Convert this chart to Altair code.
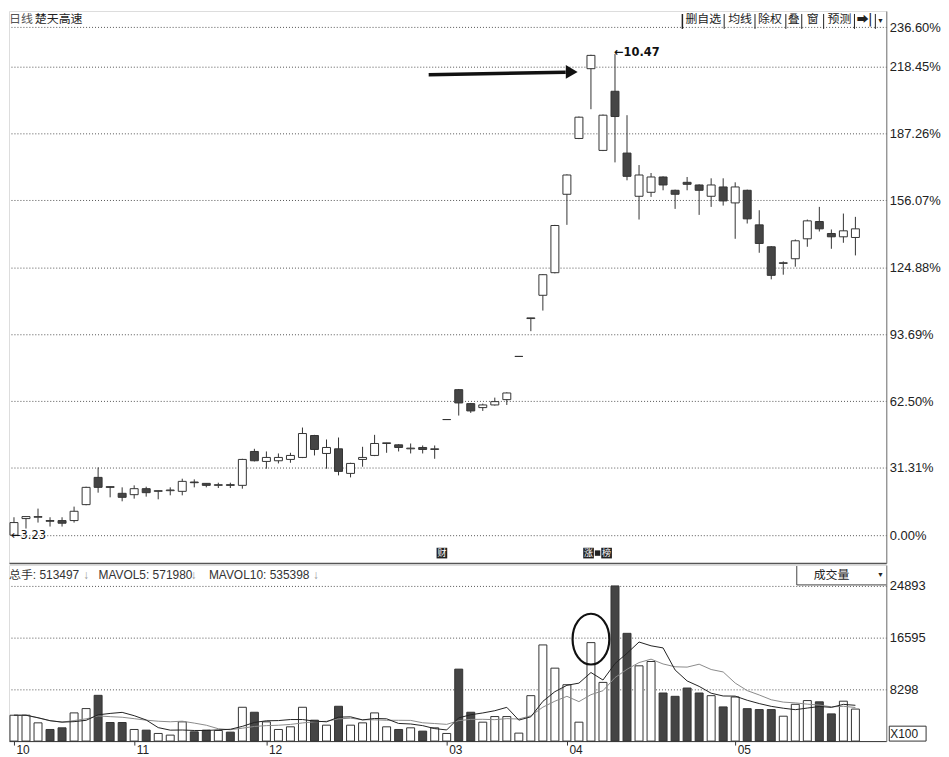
import altair as alt
import pandas as pd
import numpy as np

BASE_PRICE = 3.23

opens = [3.23, 3.48, 3.50, 3.45, 3.45, 3.45, 3.69, 4.10, 3.96, 3.86,
         3.84, 3.93, 3.89, 3.90, 3.89, 4.03, 4.01, 3.98, 3.99, 3.98,
         4.49, 4.34, 4.35, 4.37, 4.40, 4.73, 4.46, 4.53, 4.16, 4.37,
         4.43, 4.61, 4.59, 4.53, 4.55, 4.52, 4.97, 5.42, 5.21, 5.15,
         5.19, 5.27, 5.92, 6.49, 6.84, 7.18, 8.36, 9.20, 10.25, 9.02,
         9.91, 8.98, 8.33, 8.39, 8.62, 8.42, 8.54, 8.50, 8.33, 8.47,
         8.23, 8.42, 7.90, 7.57, 7.32, 7.39, 7.69, 7.95, 7.77, 7.72, 7.71]
highs = [3.50, 3.51, 3.63, 3.50, 3.50, 3.66, 3.96, 4.25, 3.96, 3.95,
         3.98, 3.96, 3.90, 3.95, 4.08, 4.07, 4.01, 4.02, 4.02, 4.38,
         4.53, 4.49, 4.46, 4.47, 4.85, 4.74, 4.67, 4.70, 4.32, 4.56,
         4.74, 4.62, 4.60, 4.61, 4.58, 4.58, 4.97, 5.43, 5.22, 5.21,
         5.30, 5.38, 5.92, 6.50, 7.16, 7.90, 8.66, 9.53, 10.46, 9.56,
         10.47, 9.55, 8.80, 8.68, 8.63, 8.43, 8.62, 8.51, 8.60, 8.60,
         8.54, 8.43, 8.12, 7.58, 7.35, 7.68, 7.98, 8.17, 7.83, 8.07, 8.02]
lows = [3.23, 3.33, 3.42, 3.36, 3.36, 3.42, 3.68, 3.87, 3.80, 3.74,
        3.78, 3.81, 3.77, 3.83, 3.83, 3.95, 3.95, 3.94, 3.94, 3.93,
        4.34, 4.23, 4.31, 4.32, 4.39, 4.43, 4.23, 4.13, 4.10, 4.26,
        4.42, 4.47, 4.49, 4.46, 4.46, 4.38, 4.97, 5.03, 5.07, 5.10,
        5.18, 5.19, 5.92, 6.30, 6.61, 7.17, 7.90, 9.19, 9.64, 9.01,
        8.84, 8.57, 7.98, 8.32, 8.42, 8.14, 8.42, 8.05, 8.17, 8.19,
        7.69, 7.92, 7.48, 7.08, 7.15, 7.27, 7.57, 7.80, 7.54, 7.63, 7.44]
closes = [3.42, 3.51, 3.51, 3.44, 3.41, 3.59, 3.95, 3.95, 3.95, 3.80,
          3.93, 3.87, 3.90, 3.91, 4.04, 4.02, 3.98, 3.99, 3.98, 4.37,
          4.35, 4.40, 4.40, 4.43, 4.76, 4.52, 4.55, 4.19, 4.31, 4.40,
          4.61, 4.62, 4.55, 4.54, 4.52, 4.53, 4.97, 5.22, 5.10, 5.19,
          5.24, 5.37, 5.92, 6.50, 7.15, 7.89, 8.65, 9.52, 10.45, 9.55,
          9.53, 8.63, 8.65, 8.62, 8.50, 8.36, 8.51, 8.42, 8.50, 8.26,
          8.47, 7.99, 7.62, 7.14, 7.33, 7.66, 7.96, 7.84, 7.72, 7.81, 7.84]
# volume in units of 100 hands
volumes = [4149, 4149, 2925, 1862, 2128, 4521, 5213, 7340, 2979, 2979,
           1862, 1755, 1223, 957, 3085, 1489, 1755, 1702, 1436, 5425,
           4627, 3085, 1862, 2287, 5425, 3351, 2553, 5585, 2553, 2925,
           4521, 2287, 1862, 2128, 1596, 2128, 1223, 11542, 4627, 3032,
           3936, 3936, 1277, 7287, 15425, 11702, 9042, 3032, 15797, 9415,
           24893, 17287, 12074, 12766, 7713, 7181, 8510, 7713, 7287, 5479,
           7074, 5200, 5053, 5053, 3989, 5900, 6500, 6300, 4362, 6400, 5135]

month_idx = [0, 10, 21, 36, 46, 60]
month_labels = ["10", "11", "12", "03", "04", "05"]
pct_ticks = [0.00, 31.31, 62.50, 93.69, 124.88, 156.07, 187.26, 218.45, 236.60]
vol_ticks = [8298, 16595, 24893]

title_a = "日线"
title_b = "楚天高速"
header_parts = ["总手: 513497", "↓", "MAVOL5: 571980", "↓", "MAVOL10: 535398", "↓"]
vol_box_text = "成交量"
unit_text = "X100"
tool_labels = ["删自选", "均线", "除权", "叠", "窗", "预测", "➡|"]

marker_i = [35.6, 47.8, 49.3]
marker_t = ["财", "涨", "榜"]

arrow_i = [34.5, 45.9]
arrow_y = [214.5, 215.7]

# ---------------------------------------------------------------
n = len(opens)
df = pd.DataFrame({"i": np.arange(n), "open": opens, "high": highs,
                   "low": lows, "close": closes, "vol": volumes})
for c in ["open", "high", "low", "close"]:
    df[c + "_p"] = (df[c] / BASE_PRICE - 1) * 100
df["dir"] = np.where(df["close"] >= df["open"], "up", "down")
df["ma5"] = df["vol"].rolling(5, min_periods=1).mean()
df["ma10"] = df["vol"].rolling(10, min_periods=1).mean()

FONT = "Liberation Sans"
CJK = "Noto Sans CJK SC"
MIX = "Liberation Sans, Noto Sans CJK SC"
W, H1, H2 = 882, 555, 177
DARK = "#454545"
LINE = "#333333"

xscale = alt.Scale(domain=[-0.414, 72.57], nice=False, zero=False, padding=0)
fill_scale = alt.Scale(domain=["up", "down"], range=["white", DARK])

x_top = alt.X("i:Q", scale=xscale,
              axis=alt.Axis(labels=False, ticks=False, grid=False, domain=True,
                            domainColor="#555", domainWidth=1.5, title=None))
yscale_p = alt.Scale(domain=[-12.97, 244.21], nice=False, zero=False, padding=0)
y_axis_p = alt.Axis(orient="right", values=pct_ticks,
                    labelExpr="format(datum.value, '.2f') + '%'",
                    grid=True, gridDash=[1, 2], gridColor="#555", ticks=False,
                    domainColor="#777", labelFontSize=13, labelPadding=3,
                    labelColor="#222", title=None, labelFont=FONT,
                    labelOverlap=False, labelFlush=False)

base = alt.Chart(df)
wick = base.mark_rule(color=LINE, strokeWidth=1).encode(
    x=x_top, y=alt.Y("low_p:Q", scale=yscale_p, axis=y_axis_p), y2="high_p:Q")
body = base.mark_bar(size=8, stroke=LINE, strokeWidth=1).encode(
    x=x_top, y=alt.Y("open_p:Q", scale=yscale_p, axis=y_axis_p), y2="close_p:Q",
    fill=alt.Fill("dir:N", scale=fill_scale, legend=None))

lo_i = int(df["low"].idxmin())
hi_i = int(df["high"].idxmax())
lo_df = pd.DataFrame({"i": [lo_i], "y": [df["low_p"][lo_i]],
                      "t": ["←" + f"{df['low'][lo_i]:.2f}"]})
hi_df = pd.DataFrame({"i": [hi_i], "y": [df["high_p"][hi_i]],
                      "t": ["←" + f"{df['high'][hi_i]:.2f}"]})
lo_txt = alt.Chart(lo_df).mark_text(align="left", baseline="middle", dx=-3, dy=1,
                                    font="DejaVu Sans", fontSize=11.5, color="#111").encode(
    x=x_top, y=alt.Y("y:Q", scale=yscale_p, axis=y_axis_p), text="t:N")
hi_txt = alt.Chart(hi_df).mark_text(align="left", baseline="middle", dx=-1, dy=-1,
                                    font="DejaVu Sans", fontSize=11.5, fontWeight="bold",
                                    color="#111").encode(
    x=x_top, y=alt.Y("y:Q", scale=yscale_p, axis=y_axis_p), text="t:N")

arr_df = pd.DataFrame({"i": arrow_i, "y": arrow_y})
arr_line = alt.Chart(arr_df).mark_line(color="#111", strokeWidth=3.5).encode(
    x=x_top, y=alt.Y("y:Q", scale=yscale_p, axis=y_axis_p))
head_df = pd.DataFrame({"i": [arrow_i[-1] + 0.5], "y": [arrow_y[-1] + 0.1]})
arr_head = alt.Chart(head_df).mark_point(shape="triangle-right", filled=True,
                                         size=190, color="#111", opacity=1).encode(
    x=x_top, y=alt.Y("y:Q", scale=yscale_p, axis=y_axis_p))

mk_df = pd.DataFrame({"i": marker_i, "y": [-8.34] * len(marker_i), "t": marker_t})
mk_box = alt.Chart(mk_df).mark_square(size=115, color="#222", opacity=1).encode(
    x=x_top, y=alt.Y("y:Q", scale=yscale_p, axis=y_axis_p))
mk_txt = alt.Chart(mk_df).mark_text(font=CJK, fontSize=9, color="white",
                                    baseline="middle").encode(
    x=x_top, y=alt.Y("y:Q", scale=yscale_p, axis=y_axis_p), text="t:N")
mk_mid = alt.Chart(pd.DataFrame({"i": [48.55], "y": [-8.34]})).mark_square(
    size=30, color="#222", opacity=1).encode(
    x=x_top, y=alt.Y("y:Q", scale=yscale_p, axis=y_axis_p))

title_layers = [
    alt.Chart(pd.DataFrame({"t": [title_a]})).mark_text(
        align="left", baseline="top", font=CJK, fontSize=12, color="#555").encode(
        x=alt.value(0), y=alt.value(3), text="t:N"),
    alt.Chart(pd.DataFrame({"t": [title_b]})).mark_text(
        align="left", baseline="top", font=CJK, fontSize=12, color="#222").encode(
        x=alt.value(26), y=alt.value(3), text="t:N"),
]

tool_centers = [698, 735, 765, 789, 808, 835, 860]
tool_seps = [677, 719, 750, 781, 797, 819, 850, 871]
tool_layers = []
for lab, cx in zip(tool_labels, tool_centers):
    tool_layers.append(
        alt.Chart(pd.DataFrame({"t": [lab]})).mark_text(
            align="center", baseline="top", font=CJK, fontSize=12,
            color="#222", fontWeight="bold" if lab.startswith("➡") else "normal").encode(
            x=alt.value(cx), y=alt.value(3), text="t:N"))
for k, sx in enumerate(tool_seps):
    tool_layers.append(
        alt.Chart(pd.DataFrame({"a": [0]})).mark_rule(
            color="#222", strokeWidth=1.5 if k == 0 else 1).encode(
            x=alt.value(sx), y=alt.value(3), y2=alt.value(18)))
tool_layers.append(
    alt.Chart(pd.DataFrame({"t": ["▼"]})).mark_text(
        align="center", baseline="middle", font=FONT, fontSize=7, color="#222").encode(
        x=alt.value(876), y=alt.value(10), text="t:N"))

top = alt.layer(wick, body, lo_txt, hi_txt, arr_line, arr_head, mk_box, mk_txt,
                mk_mid, *title_layers, *tool_layers).properties(width=W, height=H1)

# ---------------- volume panel ----------------
label_expr = " : ".join(f"datum.value == {i} ? '{l}'" for i, l in
                        zip(month_idx, month_labels)) + " : ''"
x_vol = alt.X("i:Q", scale=xscale,
              axis=alt.Axis(values=month_idx, labelExpr=label_expr, tickSize=4,
                            tickColor="#333", domainColor="#333", labelAlign="left",
                            labelOffset=2, labelPadding=-1, labelFontSize=12,
                            labelFont=FONT, labelColor="#222", grid=False,
                            title=None, labelFlush=False, labelOverlap=False))
yscale_v = alt.Scale(domain=[0, 28246], nice=False, zero=True, padding=0)
y_axis_v = alt.Axis(orient="right", values=vol_ticks, format="d", grid=True,
                    gridDash=[1, 2], gridColor="#555", ticks=False,
                    domainColor="#777", labelFontSize=13, labelPadding=3,
                    labelColor="#222", title=None, labelFont=FONT,
                    labelOverlap=False, labelFlush=False)

vbase = alt.Chart(df)
vbars = vbase.mark_bar(size=8, stroke=LINE, strokeWidth=1).encode(
    x=x_vol, y=alt.Y("vol:Q", scale=yscale_v, axis=y_axis_v),
    fill=alt.Fill("dir:N", scale=fill_scale, legend=None))
ma10 = vbase.mark_line(color="#8a8a8a", strokeWidth=1).encode(
    x=x_vol, y=alt.Y("ma10:Q", scale=yscale_v, axis=y_axis_v))
ma5 = vbase.mark_line(color="#222", strokeWidth=1).encode(
    x=x_vol, y=alt.Y("ma5:Q", scale=yscale_v, axis=y_axis_v))

ellipse_path = "M-0.725,0A0.725,1,0,1,0,0.725,0A0.725,1,0,1,0,-0.725,0Z"
ell = alt.Chart(pd.DataFrame({"i": [48.0], "v": [16356]})).mark_point(
    shape=ellipse_path, size=2601, filled=False, stroke="#111", strokeWidth=2.2,
    opacity=1).encode(x=x_vol, y=alt.Y("v:Q", scale=yscale_v, axis=y_axis_v))

# header: text pieces with arrows in gray
hdr_x = [0, 75, 90, 183, 201, 306]
hdr_layers = []
for txt, hx in zip(header_parts, hdr_x):
    hdr_layers.append(
        alt.Chart(pd.DataFrame({"t": [txt]})).mark_text(
            align="left", baseline="middle", font=MIX, fontSize=12,
            color="#999" if txt == "↓" else "#333").encode(
            x=alt.value(hx), y=alt.value(10), text="t:N"))

box_left = alt.Chart(pd.DataFrame({"a": [0]})).mark_rule(color="#444").encode(
    x=alt.value(792), y=alt.value(1), y2=alt.value(20))
box_bot = alt.Chart(pd.DataFrame({"a": [0]})).mark_rule(color="#444").encode(
    x=alt.value(792), x2=alt.value(882), y=alt.value(20))
box_txt = alt.Chart(pd.DataFrame({"t": [vol_box_text]})).mark_text(
    align="center", baseline="middle", font=CJK, fontSize=12, color="#222").encode(
    x=alt.value(827), y=alt.value(10), text="t:N")
box_arrow = alt.Chart(pd.DataFrame({"t": ["▼"]})).mark_text(
    align="center", baseline="middle", font=FONT, fontSize=7, color="#222").encode(
    x=alt.value(876), y=alt.value(10), text="t:N")
unit_box = alt.Chart(pd.DataFrame({"a": [0]})).mark_rect(
    fill="white", stroke="#333", strokeWidth=1).encode(
    x=alt.value(885), x2=alt.value(922), y=alt.value(162), y2=alt.value(177))
unit_txt = alt.Chart(pd.DataFrame({"t": [unit_text]})).mark_text(
    align="left", baseline="middle", font=FONT, fontSize=12, color="#222").encode(
    x=alt.value(886), y=alt.value(170), text="t:N")

vol = alt.layer(vbars, ma10, ma5, ell, *hdr_layers, box_left, box_bot, box_txt,
                box_arrow, unit_box, unit_txt).properties(width=W, height=H2)

chart = alt.vconcat(top, vol, spacing=0).properties(
    padding={"left": 0, "top": 0, "right": 0, "bottom": 0}
).configure_view(stroke=None).configure(font=FONT, background="white")

chart.save("out.html", embed_options={"renderer": "svg", "actions": False})
